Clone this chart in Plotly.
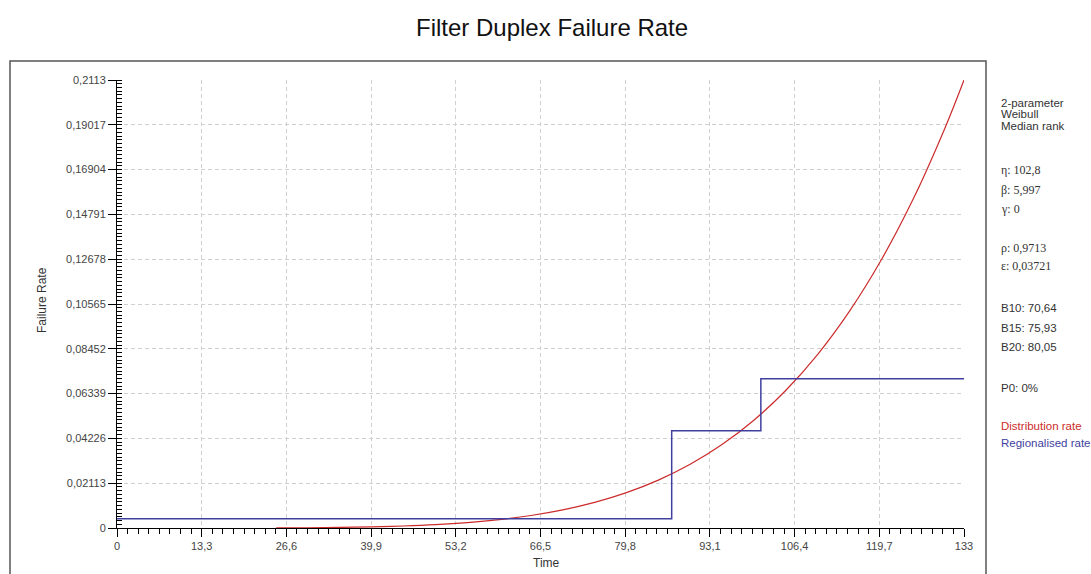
import plotly.graph_objects as go

# ---- data ----
dist_t = [25, 30, 35, 40, 45, 50, 55, 60, 65, 70, 75, 80, 85, 90, 95, 100, 105, 110, 115, 120, 125, 130, 133]
dist_rate = [0.00005, 0.00012, 0.00027, 0.00052, 0.00094, 0.00159, 0.00256, 0.00396, 0.0059, 0.00855,
             0.01207, 0.01666, 0.02257, 0.03002, 0.03933, 0.05083, 0.06485, 0.08181, 0.10218, 0.12638,
             0.15501, 0.18857, 0.2113]
reg_t = [0, 87.1, 87.1, 101.1, 101.1, 133]
reg_rate = [0.0044, 0.0044, 0.0459, 0.0459, 0.0704, 0.0704]

x_ticks = [0, 13.3, 26.6, 39.9, 53.2, 66.5, 79.8, 93.1, 106.4, 119.7, 133]
x_labels = ["0", "13,3", "26,6", "39,9", "53,2", "66,5", "79,8", "93,1", "106,4", "119,7", "133"]
y_ticks = [0, 0.02113, 0.04226, 0.06339, 0.08452, 0.10565, 0.12678, 0.14791, 0.16904, 0.19017, 0.2113]
y_labels = ["0", "0,02113", "0,04226", "0,06339", "0,08452", "0,10565", "0,12678", "0,14791",
            "0,16904", "0,19017", "0,2113"]

info_lines = ["2-parameter", "Weibull", "Median rank", "η: 102,8", "β: 5,997", "γ: 0", "ρ: 0,9713",
              "ε: 0,03721", "B10: 70,64", "B15: 75,93", "B20: 80,05", "P0: 0%",
              "Distribution rate", "Regionalised rate"]
info_y_px = [103, 114, 126, 170, 190, 209, 248, 266, 308, 328, 347, 388, 426, 443]

RED = "#cc2b2b"
BLUE = "#3f3fa0"

W, H = 1091, 574
L, R, T, B = 117, 127, 80, 46
pw, ph = W - L - R, H - T - B


def px_x(x):
    return (x - L) / pw


def px_y(y):
    return (H - B - y) / ph


fig = go.Figure()
fig.add_trace(go.Scatter(x=dist_t, y=dist_rate, mode="lines", line=dict(color=RED, width=1.2, shape="spline"),
                         name="Distribution rate", showlegend=False))
fig.add_trace(go.Scatter(x=reg_t, y=reg_rate, mode="lines", line=dict(color=BLUE, width=1.5),
                         name="Regionalised rate", showlegend=False))

axis_font = dict(family="Liberation Sans, Arial, sans-serif", size=11, color="#444")
fig.update_xaxes(range=[0, 133], tickvals=x_ticks, ticktext=x_labels, ticks="outside", ticklen=8,
                 tickcolor="black", showline=True, linecolor="black", linewidth=1,
                 showgrid=True, gridcolor="#d0d0d0", griddash="4px,3px", gridwidth=1, zeroline=False,
                 tickfont=axis_font,
                 minor=dict(dtick=13.3 / 8, tick0=0, ticks="outside", ticklen=5, tickcolor="black", showgrid=False))
fig.update_yaxes(range=[0, 0.2113], tickvals=y_ticks, ticktext=y_labels, ticks="outside", ticklen=8,
                 tickcolor="black", showline=True, linecolor="black", linewidth=1,
                 showgrid=True, gridcolor="#d0d0d0", griddash="4px,3px", gridwidth=1, zeroline=False,
                 tickfont=axis_font,
                 minor=dict(dtick=0.02113 / 12, tick0=0, ticks="inside", ticklen=5, tickcolor="black", showgrid=False))

annotations = [
    dict(text="Filter Duplex Failure Rate", x=px_x(552), y=px_y(27), xref="paper", yref="paper",
         showarrow=False, xanchor="center", yanchor="middle",
         font=dict(family="Liberation Sans, Arial, sans-serif", size=24, color="#111")),
    dict(text="Failure Rate", x=px_x(42), y=px_y(300), xref="paper", yref="paper", textangle=-90,
         showarrow=False, xanchor="center", yanchor="middle",
         font=dict(family="Liberation Sans, Arial, sans-serif", size=12, color="#333")),
    dict(text="Time", x=px_x(546), y=px_y(563), xref="paper", yref="paper",
         showarrow=False, xanchor="center", yanchor="middle",
         font=dict(family="Liberation Sans, Arial, sans-serif", size=12, color="#333")),
]
for txt, ypx in zip(info_lines, info_y_px):
    color = "#333"
    fam = "Liberation Sans, Arial, sans-serif"
    size = 11.5
    if txt.startswith("Distribution"):
        color = RED
    elif txt.startswith("Regionalised"):
        color = BLUE
    if txt[0] in "ηβγρε":
        fam = "Liberation Serif, Times New Roman, serif"
        size = 12
    annotations.append(dict(text=txt, x=px_x(999), y=px_y(ypx), xref="paper", yref="paper",
                            showarrow=False, xanchor="left", yanchor="middle",
                            font=dict(family=fam, size=size, color=color)))

fig.update_layout(
    width=W, height=H, margin=dict(l=L, r=R, t=T, b=B, autoexpand=False),
    paper_bgcolor="white", plot_bgcolor="white",
    annotations=annotations,
    shapes=[dict(type="rect", xref="paper", yref="paper", x0=px_x(10), x1=px_x(986),
                 y0=px_y(600), y1=px_y(61), line=dict(color="#555", width=1.5), layer="below")],
)

fig.write_html("out.html", config={"displayModeBar": False},
               post_script="document.body.style.margin='0';document.body.style.padding='0';")
